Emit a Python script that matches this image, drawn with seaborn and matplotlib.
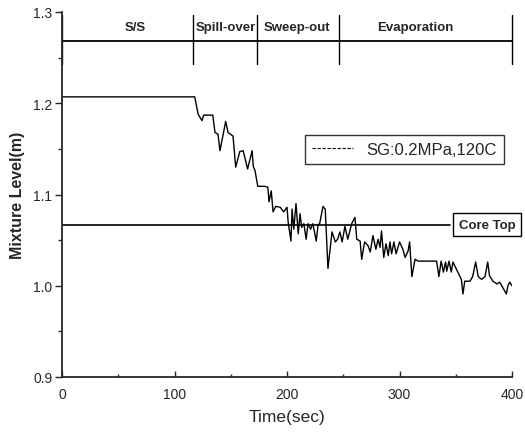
import matplotlib
matplotlib.use("Agg")
import matplotlib.pyplot as plt
import seaborn as sns
import pandas as pd
from matplotlib.ticker import MultipleLocator

# ---- data ----
time_s = [0, 118, 121, 124.4, 126, 134, 136, 138.7, 140.4, 145.5, 147.6, 152, 154.4, 158, 161,
          165, 169, 170, 171.6, 174, 180, 183, 184, 186, 187.6, 190, 194, 197, 200, 201,
          203.5, 204.5, 206, 208, 210, 211.6, 213, 215, 217, 218.7, 221, 223, 226, 227.6,
          229, 232, 234, 236.4, 240, 243, 245, 247, 249, 251.5, 254, 257.5, 260.4, 262,
          265, 266.4, 269, 272, 274, 276.4, 279, 281, 282.7, 284, 286, 288, 290, 291.5,
          293, 295, 297, 300, 303, 305, 307.6, 309, 311, 313.8, 316.7, 321, 333, 335,
          337, 339, 341, 342, 344, 346, 347.5, 355, 356.4, 358, 362.7, 365, 367.7, 370,
          373, 376, 378.4, 380, 383, 386.7, 389, 395, 396.4, 398, 400]
level_m = [1.207, 1.207, 1.188, 1.181, 1.187, 1.187, 1.168, 1.166, 1.148, 1.180, 1.168, 1.164,
           1.130, 1.147, 1.148, 1.128, 1.148, 1.131, 1.126, 1.109, 1.109, 1.108, 1.092, 1.104,
           1.081, 1.087, 1.086, 1.081, 1.086, 1.070, 1.049, 1.084, 1.062, 1.090, 1.057, 1.079,
           1.064, 1.068, 1.051, 1.068, 1.062, 1.068, 1.049, 1.067, 1.068, 1.087, 1.084, 1.019,
           1.059, 1.048, 1.051, 1.059, 1.048, 1.065, 1.051, 1.068, 1.075, 1.051, 1.049, 1.029,
           1.048, 1.044, 1.037, 1.055, 1.040, 1.051, 1.042, 1.060, 1.031, 1.046, 1.033, 1.048,
           1.035, 1.048, 1.035, 1.048, 1.040, 1.031, 1.038, 1.048, 1.010, 1.029, 1.027, 1.027,
           1.027, 1.010, 1.027, 1.015, 1.026, 1.016, 1.027, 1.015, 1.026, 1.007, 0.991, 1.005,
           1.005, 1.010, 1.026, 1.010, 1.007, 1.010, 1.026, 1.011, 1.005, 1.002, 1.004, 0.991,
           1.000, 1.004, 1.000]
series_label = "SG:0.2MPa,120C"

phase_names = ["S/S", "Spill-over", "Sweep-out", "Evaporation"]
phase_bounds = [0, 116, 173, 246, 400]
phase_label_x = [65, 146, 209, 314]
phase_line_y = 1.2686
core_top_y = 1.067
core_top_label = "Core Top"

x_label = "Time(sec)"
y_label = "Mixture Level(m)"

# ---- style ----
sns.set_style("ticks")
plt.rcParams["font.family"] = ["Liberation Sans", "DejaVu Sans"]

fig = plt.figure(figsize=(5.25, 4.35), dpi=100)
ax = fig.add_axes([62/525, 1-378/435, 450/525, 365/435])

df = pd.DataFrame({"t": time_s, "level": level_m})
sns.lineplot(data=df, x="t", y="level", ax=ax, color="black", linewidth=1.0,
             label=series_label, estimator=None, sort=False)

# phase header
ax.axhline(phase_line_y, color="black", linewidth=1.3)
for b in phase_bounds:
    ax.plot([b, b], [1.243, 1.2965], color="black", linewidth=1.0, clip_on=False)
for name, xp in zip(phase_names, phase_label_x):
    ax.text(xp, 1.2836, name, ha="center", va="center", fontsize=9.5, fontweight="bold")

# core top
ax.plot([0, 345], [core_top_y, core_top_y], color="black", linewidth=1.2)
ax.text(378, core_top_y, core_top_label, ha="center", va="center", fontsize=9.5,
        fontweight="bold", clip_on=False,
        bbox=dict(boxstyle="square,pad=0.42", fc="white", ec="black", lw=1.0))

ax.set_xlim(0, 400)
ax.set_ylim(0.9, 1.3)
ax.xaxis.set_major_locator(MultipleLocator(100))
ax.xaxis.set_minor_locator(MultipleLocator(50))
ax.yaxis.set_major_locator(MultipleLocator(0.1))
ax.yaxis.set_minor_locator(MultipleLocator(0.05))
ax.yaxis.set_major_formatter(matplotlib.ticker.FormatStrFormatter("%.1f"))
ax.tick_params(axis="y", which="major", direction="out", length=5, width=1, labelsize=10, pad=2)
ax.tick_params(axis="y", which="minor", direction="out", length=3, width=1)
ax.tick_params(axis="x", which="major", direction="in", length=4, width=1, labelsize=10, pad=7)
ax.tick_params(axis="x", which="minor", direction="in", length=2, width=1)
sns.despine(ax=ax)
for s in ["left", "bottom"]:
    ax.spines[s].set_linewidth(1.3)

ax.set_xlabel(x_label, fontsize=12.5, labelpad=6)
ax.set_ylabel(y_label, fontsize=11.5, fontweight="bold", labelpad=6)

leg = ax.legend(loc="upper right", bbox_to_anchor=(1.0, 0.685), fontsize=12,
                frameon=True, fancybox=False, edgecolor="black", handlelength=2.5,
                borderpad=0.4)
leg.get_frame().set_linewidth(1.0)
for line in leg.get_lines():
    line.set_linestyle((0, (3, 1.5)))
    line.set_linewidth(0.8)

fig.savefig("out.png", dpi=100)
